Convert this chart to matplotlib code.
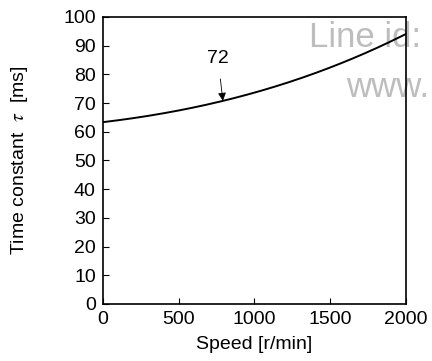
import matplotlib.pyplot as plt
import numpy as np

plt.rcParams['font.family'] = ['Liberation Sans', 'DejaVu Sans']
plt.rcParams['mathtext.fontset'] = 'stix'

# values
speed = [0, 250, 500, 750, 1000, 1250, 1500, 1750, 2000]
tau = [63.4, 65.1, 67.3, 70.2, 73.8, 77.8, 82.3, 87.7, 94.2]

x_ticks = [0, 500, 1000, 1500, 2000]
y_ticks = [0, 10, 20, 30, 40, 50, 60, 70, 80, 90, 100]

fig = plt.figure(figsize=(4.32, 3.61), dpi=100)
ax = fig.add_axes([0.238, 0.158, 0.702, 0.795])

# smooth curve through the read points
xs = np.linspace(0, 2000, 200)
coef = np.polyfit(speed, tau, 3)
ax.plot(xs, np.polyval(coef, xs), color='black', linewidth=1.4, zorder=3)

ax.annotate('72', xy=(792, np.polyval(coef, 792)), xytext=(759, 85.7),
            ha='center', va='center', fontsize=14,
            arrowprops=dict(arrowstyle='-|>', color='black', lw=0.6,
                            mutation_scale=12, shrinkA=7, shrinkB=0))

ax.set_xlim(0, 2000)
ax.set_ylim(0, 100)
ax.set_xticks(x_ticks)
ax.set_yticks(y_ticks)
ax.tick_params(direction='in', length=4, width=0.8, labelsize=14, pad=5)
for s in ax.spines.values():
    s.set_linewidth(1.2)

ax.set_xlabel('Speed [r/min]', fontsize=14, labelpad=6)
ax.set_ylabel('Time constant  $\\tau$  [ms]', fontsize=14, labelpad=24)

# watermark behind the plot
ax.text(309 / 432, 1 - 47 / 361, 'Line id:', transform=fig.transFigure,
        fontsize=25, color='#bdbdbd', clip_on=False, zorder=0)
ax.text(346 / 432, 1 - 97 / 361, 'www.', transform=fig.transFigure,
        fontsize=25, color='#bdbdbd', clip_on=False, zorder=0)

fig.savefig('out.png', dpi=100)
